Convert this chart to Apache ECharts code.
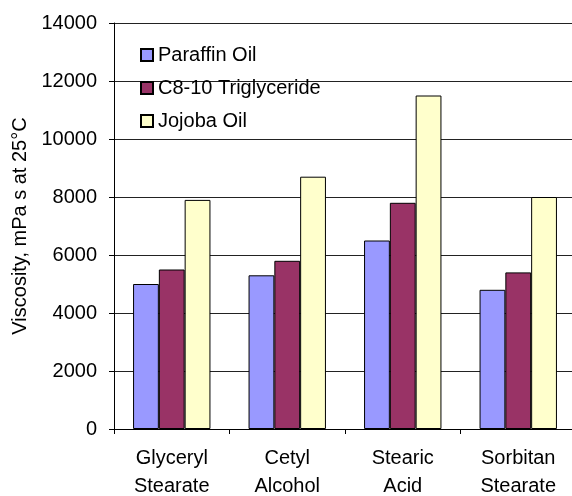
<!DOCTYPE html>
<html>
<head>
<meta charset="utf-8">
<script src="https://cdn.jsdelivr.net/npm/echarts@6/dist/echarts.min.js"></script>
<style>html,body{margin:0;padding:0;background:#fff}#c{width:572px;height:496px}</style>
</head>
<body>
<div id="c"></div>
<script>
const categories = ["Glyceryl\nStearate", "Cetyl\nAlcohol", "Stearic\nAcid", "Sorbitan\nStearate"];
const seriesNames = ["Paraffin Oil", "C8-10 Triglyceride", "Jojoba Oil"];
const paraffinOil = [5000, 5300, 6500, 4800];
const triglyceride = [5500, 5800, 7800, 5400];
const jojobaOil = [7900, 8700, 11500, 8000];
const yTicks = [0, 2000, 4000, 6000, 8000, 10000, 12000, 14000];
const colors = ["#9999FF", "#993366", "#FFFFCC"];

const font = "Liberation Sans, Arial, sans-serif";
const chart = echarts.init(document.getElementById('c'), null, {renderer: 'canvas'});
const values = [paraffinOil, triglyceride, jojobaOil];
chart.setOption({
  animation: false,
  backgroundColor: '#fff',
  textStyle: {fontFamily: font},
  grid: {left: 114, top: 23, width: 462, height: 406, containLabel: false, outerBoundsMode: 'none'},
  legend: {
    orient: 'vertical', left: 135, top: 40,
    itemWidth: 12, itemHeight: 12, itemGap: 13, itemTextGap: 6,
    icon: 'rect',
    textStyle: {fontFamily: font, fontSize: 20, color: '#000'},
    data: seriesNames
  },
  xAxis: {
    type: 'category', data: categories,
    axisLine: {lineStyle: {color: '#000', width: 1}},
    axisTick: {show: true, length: 5, interval: 0, lineStyle: {color: '#000'}},
    axisLabel: {fontFamily: font, fontSize: 20, color: '#000', margin: 16, lineHeight: 27.5, interval: 0}
  },
  yAxis: {
    type: 'value', min: yTicks[0], max: yTicks[yTicks.length-1], interval: 2000,
    name: 'Viscosity, mPa s at 25°C', nameLocation: 'middle', nameGap: 84, nameRotate: 90,
    nameTextStyle: {fontFamily: font, fontSize: 20, color: '#000'},
    axisLine: {show: true, lineStyle: {color: '#000', width: 1}},
    axisTick: {show: true, length: 5, inside: false, lineStyle: {color: '#000'}},
    axisLabel: {fontFamily: font, fontSize: 20, color: '#000', margin: 17, formatter: v => String(v)},
    splitLine: {show: true, lineStyle: {color: '#222', width: 1}}
  },
  series: seriesNames.map((n, i) => ({
    name: n, type: 'bar', data: values[i],
    barGap: '0%', barCategoryGap: '33%',
    itemStyle: {color: colors[i], borderColor: '#000', borderWidth: 1}
  }))
});
</script>
</body>
</html>
